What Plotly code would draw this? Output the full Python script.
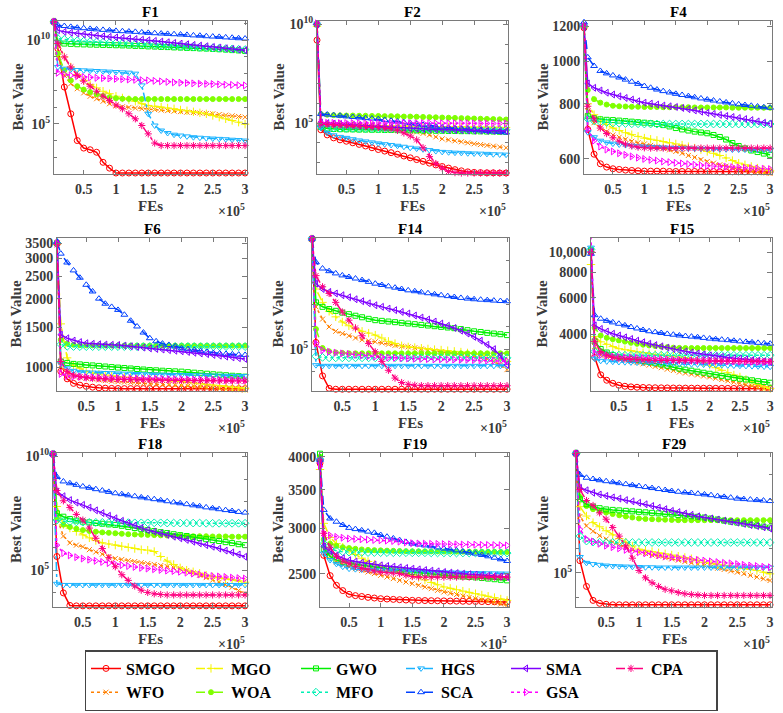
import plotly.graph_objects as go

# ---------------------------------------------------------------- data
FES = [4000, 10000, 20000, 30000, 40000, 50000, 60000, 70000, 80000, 90000,
       100000, 110000, 120000, 130000, 140000, 150000, 160000, 170000, 180000,
       190000, 200000, 210000, 220000, 230000, 240000, 250000, 260000, 270000,
       280000, 290000, 300000]

# drawing order (later = on top) and legend order (row by row)
DRAW_ORDER = ["SMGO", "WFO", "MGO", "WOA", "GWO", "MFO", "HGS", "SCA", "SMA", "GSA", "CPA"]
LEGEND_ORDER = ["SMGO", "MGO", "GWO", "HGS", "SMA", "CPA", "WFO", "WOA", "MFO", "SCA", "GSA"]

# F1, F2, F14, F18, F29: log10 of Best Value
F1_LOG10 = {
    "SMGO": [11.1, 9.5, 7.2, 5.6, 4.0, 3.55, 3.45, 3.3, 2.7, 2.35, 2.06] + [2.06] * 20,
    "MGO": [11.1, 9.8, 9.0, 8.4, 7.95, 7.6, 7.35, 7.15, 6.95, 6.8, 6.65, 6.55, 6.45, 6.35, 6.2, 6.1,
            6.05, 6.0, 5.95, 5.9, 5.83, 5.78, 5.72, 5.66, 5.6, 5.5, 5.4, 5.3, 5.2, 5.1, 4.98],
    "GWO": [11.1, 9.85, 9.8, 9.78, 9.76, 9.75, 9.74, 9.73, 9.72, 9.71, 9.7, 9.69, 9.68, 9.66, 9.65, 9.63,
            9.62, 9.6, 9.59, 9.57, 9.56, 9.54, 9.53, 9.51, 9.5, 9.48, 9.46, 9.44, 9.41, 9.39, 9.36],
    "HGS": [11.1, 8.4, 8.3, 8.25, 8.22, 8.2, 8.18, 8.16, 8.14, 8.12, 8.1, 8.08, 8.06, 8.0, 7.3, 5.6,
            4.9, 4.6, 4.45, 4.35, 4.3, 4.25, 4.2, 4.17, 4.14, 4.12, 4.1, 4.08, 4.05, 4.03, 4.0],
    "SMA": [11.1, 10.6, 10.5, 10.45, 10.4, 10.35, 10.3, 10.27, 10.24, 10.2, 10.17, 10.14, 10.1, 10.07,
            10.03, 10.0, 9.96, 9.92, 9.88, 9.84, 9.8, 9.76, 9.72, 9.68, 9.64, 9.6, 9.56, 9.52, 9.48, 9.44, 9.4],
    "CPA": [11.1, 9.8, 9.0, 8.4, 7.9, 7.55, 7.25, 6.95, 6.65, 6.4, 6.13, 5.9, 5.6, 5.3, 4.9, 4.4,
            3.85, 3.7] + [3.7] * 13,
    "WFO": [11.1, 9.0, 7.9, 7.4, 7.1, 6.85, 6.65, 6.5, 6.35, 6.2, 6.07, 6.02, 5.98, 5.94, 5.9, 5.87,
            5.85, 5.82, 5.79, 5.76, 5.73, 5.7, 5.68, 5.65, 5.62, 5.6, 5.56, 5.52, 5.48, 5.44, 5.4],
    "WOA": [11.1, 9.2, 8.2, 7.6, 7.25, 7.05, 6.9, 6.77, 6.67, 6.58, 6.53, 6.5, 6.49] + [6.48] * 18,
    "MFO": [11.1, 10.1, 10.05, 10.0, 9.97, 9.94, 9.92, 9.9, 9.88, 9.86, 9.84, 9.82, 9.8, 9.78, 9.76, 9.74,
            9.72, 9.7, 9.68, 9.66, 9.64, 9.62, 9.6, 9.58, 9.56, 9.54, 9.52, 9.5, 9.48, 9.46, 9.44],
    "SCA": [11.1, 10.9, 10.85, 10.8, 10.75, 10.72, 10.68, 10.65, 10.62, 10.59, 10.56, 10.54, 10.52, 10.5,
            10.47, 10.44, 10.42, 10.4, 10.38, 10.36, 10.34, 10.32, 10.29, 10.27, 10.24, 10.22, 10.2,
            10.17, 10.15, 10.12, 10.1],
    "GSA": [11.1, 8.05, 7.95, 7.9, 7.85, 7.8, 7.78, 7.75, 7.73, 7.71, 7.69, 7.67, 7.65, 7.63, 7.61, 7.6,
            7.57, 7.54, 7.51, 7.48, 7.46, 7.44, 7.42, 7.4, 7.39, 7.38, 7.36, 7.34, 7.33, 7.31, 7.3],
}

F2_LOG10 = {
    "SMGO": [9.2, 4.66, 4.4, 4.25, 4.15, 4.08, 4.0, 3.92, 3.84, 3.75, 3.66, 3.58, 3.5, 3.42, 3.33, 3.24,
             3.15, 3.06, 2.97, 2.88, 2.8, 2.72, 2.64, 2.58, 2.53, 2.5, 2.49, 2.48, 2.48, 2.47, 2.47],
    "MGO": [9.9, 5.0, 4.95, 4.93, 4.92, 4.91, 4.9, 4.89, 4.88, 4.87, 4.86, 4.86, 4.85, 4.85, 4.84, 4.84,
            4.83, 4.83, 4.82, 4.82, 4.81, 4.81, 4.8, 4.8, 4.8, 4.79, 4.79, 4.79, 4.78, 4.78, 4.78],
    "GWO": [10.0, 4.8, 4.72, 4.7, 4.69, 4.68, 4.68, 4.67, 4.67, 4.66, 4.66, 4.65, 4.65, 4.64, 4.64, 4.63,
            4.63, 4.62, 4.62, 4.61, 4.61, 4.6, 4.6, 4.59, 4.59, 4.58, 4.58, 4.57, 4.57, 4.56, 4.56],
    "HGS": [10.0, 4.75, 4.5, 4.38, 4.3, 4.25, 4.18, 4.12, 4.07, 4.02, 3.97, 3.93, 3.89, 3.85, 3.8, 3.75,
            3.71, 3.67, 3.63, 3.58, 3.54, 3.52, 3.5, 3.49, 3.47, 3.46, 3.45, 3.44, 3.42, 3.41, 3.4],
    "SMA": [10.0, 5.03, 5.0, 4.97, 4.95, 4.93, 4.91, 4.89, 4.87, 4.85, 4.83, 4.81, 4.79, 4.77, 4.75, 4.73,
            4.72, 4.7, 4.69, 4.68, 4.67, 4.66, 4.65, 4.64, 4.63, 4.62, 4.62, 4.61, 4.61, 4.6, 4.6],
    "CPA": [10.0, 4.95, 4.93, 4.91, 4.89, 4.87, 4.86, 4.84, 4.82, 4.8, 4.78, 4.75, 4.71, 4.63, 4.5, 4.35,
            4.15, 3.75, 3.3, 2.95, 2.72, 2.55, 2.49] + [2.47] * 8,
    "WFO": [10.0, 4.86, 4.85, 4.84, 4.83, 4.82, 4.81, 4.8, 4.79, 4.78, 4.77, 4.75, 4.73, 4.7, 4.66, 4.6,
            4.55, 4.48, 4.4, 4.3, 4.2, 4.15, 4.1, 4.05, 4.0, 3.95, 3.91, 3.87, 3.83, 3.79, 3.75],
    "WOA": [10.0, 5.46, 5.42, 5.4, 5.39, 5.38, 5.38, 5.37, 5.37, 5.36, 5.36, 5.35, 5.35, 5.34, 5.33, 5.33,
            5.32, 5.31, 5.3, 5.29, 5.28, 5.27, 5.26, 5.25, 5.24, 5.23, 5.22, 5.21, 5.2, 5.19, 5.18],
    "MFO": [10.0, 4.85, 4.78, 4.75, 4.74, 4.73, 4.73, 4.72, 4.72, 4.72, 4.71, 4.71, 4.71, 4.7, 4.7, 4.7,
            4.7, 4.69, 4.69, 4.69, 4.69, 4.68, 4.68, 4.68, 4.68, 4.67, 4.67, 4.67, 4.67, 4.66, 4.66],
    "SCA": [10.05, 5.46, 5.43, 5.4, 5.37, 5.34, 5.31, 5.28, 5.25, 5.23, 5.2, 5.16, 5.12, 5.08, 5.04, 5.0,
            4.96, 4.91, 4.87, 4.82, 4.78, 4.76, 4.73, 4.71, 4.68, 4.66, 4.63, 4.6, 4.57, 4.55, 4.52],
    "GSA": [10.05, 5.02, 5.01, 5.01, 5.0, 5.0, 5.0, 5.0, 5.0, 5.0, 5.0, 5.0, 5.0, 5.0, 5.0, 5.0,
            5.0, 5.0, 5.0, 4.99, 4.99, 4.99, 4.99, 4.99, 4.99, 4.98, 4.98, 4.98, 4.98, 4.98, 4.98],
}

F4 = {
    "SMGO": [1190, 700, 615, 585, 575, 570, 568, 566, 565, 564, 563, 563, 563, 563, 562, 562,
             562, 562, 562, 562, 562, 562, 561, 561, 561, 561, 561, 561, 561, 561, 561],
    "MGO": [1195, 800, 756, 735, 718, 705, 696, 688, 681, 675, 669, 665, 661, 657, 653, 649,
            645, 640, 635, 630, 624, 618, 611, 603, 595, 587, 582, 577, 572, 568, 564],
    "GWO": [1200, 750, 742, 738, 736, 735, 733, 731, 729, 727, 725, 723, 720, 716, 711, 705,
            700, 696, 692, 689, 686, 680, 673, 664, 652, 642, 634, 627, 622, 617, 613],
    "HGS": [1200, 690, 672, 660, 654, 650, 647, 645, 643, 641, 640, 639, 638, 637, 636, 635,
            634, 634, 633, 633, 632, 632, 631, 631, 630, 630, 630, 629, 629, 629, 629],
    "SMA": [1200, 890, 870, 858, 848, 840, 832, 825, 818, 811, 805, 801, 797, 793, 790, 787,
            783, 778, 773, 768, 763, 759, 755, 751, 747, 743, 739, 735, 730, 725, 721],
    "CPA": [1200, 790, 740, 705, 685, 670, 658, 648, 642, 638, 636] + [635] * 20,
    "WFO": [1200, 770, 725, 705, 692, 680, 672, 665, 658, 653, 649, 644, 639, 634, 629, 624,
            618, 611, 605, 598, 592, 587, 582, 578, 573, 569, 566, 563, 560, 558, 556],
    "WOA": [1200, 860, 820, 805, 797, 792, 790, 789, 788, 788, 787, 787, 787, 786, 786, 786,
            786, 786, 785, 785, 785, 785, 785, 785, 784, 784, 784, 784, 784, 784, 784],
    "MFO": [1200, 740, 732, 728, 726, 724, 723, 722, 721, 721] + [720] * 21,
    "SCA": [1225, 1020, 975, 950, 938, 928, 918, 908, 898, 888, 878, 870, 862, 855, 849, 843,
            838, 833, 828, 823, 818, 814, 810, 806, 802, 798, 795, 792, 789, 786, 784],
    "GSA": [1200, 700, 660, 640, 630, 624, 618, 613, 608, 604, 600, 597, 595, 592, 590, 588,
            586, 584, 582, 580, 579, 578, 577, 576, 575, 574, 573, 572, 571, 570, 569],
}

F6 = {
    "SMGO": [3500, 960, 890, 850, 835, 825, 818, 813, 810, 808, 807] + [806] * 20,
    "MGO": [3450, 1550, 1100, 1020, 990, 960, 945, 935, 925, 917, 910, 906, 902, 898, 894, 890,
            885, 880, 875, 870, 865, 859, 853, 847, 841, 836, 831, 825, 820, 814, 809],
    "GWO": [3500, 1060, 1045, 1035, 1030, 1024, 1019, 1014, 1008, 1002, 997, 993, 988, 983, 978, 973,
            970, 966, 963, 960, 957, 952, 947, 942, 937, 932, 928, 923, 918, 914, 910],
    "HGS": [3700, 1040, 990, 965, 955, 950, 948, 946, 944, 942, 940, 938, 936, 934, 932, 930,
            929, 928, 927, 926, 925, 924, 923, 922, 921, 920, 919, 918, 917, 916, 915],
    "SMA": [3500, 1390, 1340, 1310, 1290, 1275, 1268, 1262, 1258, 1255, 1253, 1245, 1237, 1228, 1220,
            1210, 1203, 1196, 1189, 1182, 1175, 1167, 1158, 1150, 1142, 1133, 1124, 1114, 1105, 1096, 1088],
    "CPA": [3450, 1060, 960, 925, 910, 900, 895, 892, 889, 887, 885, 884, 883, 882, 881, 880,
            879, 878, 877, 876, 875, 875, 874, 874, 873, 873, 872, 872, 871, 871, 870],
    "WFO": [3500, 1020, 945, 915, 905, 895, 888, 880, 874, 869, 865, 861, 857, 853, 850, 846,
            843, 840, 837, 834, 831, 827, 823, 819, 815, 811, 807, 803, 800, 797, 795],
    "WOA": [3500, 1320, 1270, 1255, 1250, 1248, 1247, 1247, 1246, 1246, 1246] + [1245] * 20,
    "MFO": [3500, 1260, 1236, 1233] + [1232] * 27,
    "SCA": [3550, 3150, 2880, 2660, 2470, 2300, 2150, 2000, 1900, 1840, 1785, 1700, 1600, 1510, 1420,
            1341, 1300, 1270, 1253, 1235, 1212, 1200, 1190, 1180, 1170, 1155, 1150, 1145, 1140, 1136, 1133],
    "GSA": [3500, 935, 915, 910, 908, 906, 904, 902, 900, 898, 896, 895, 894, 893, 892, 891,
            890, 889, 888, 887, 886, 885, 884, 883, 882, 881, 880, 880, 879, 879, 878],
}

F14_LOG10 = {
    "SMGO": [9.95, 5.3, 3.8, 3.24] + [3.2] * 27,
    "MGO": [9.95, 7.7, 7.1, 6.7, 6.45, 6.22, 6.05, 5.92, 5.8, 5.72, 5.63, 5.5, 5.35, 5.25, 5.15, 5.1,
            5.07, 5.04, 5.01, 4.98, 4.96, 4.93, 4.9, 4.87, 4.83, 4.8, 4.76, 4.71, 4.64, 4.55, 4.45],
    "GWO": [9.95, 7.1, 6.9, 6.8, 6.72, 6.64, 6.57, 6.5, 6.43, 6.36, 6.3, 6.27, 6.24, 6.21, 6.18, 6.15,
            6.12, 6.09, 6.06, 6.03, 6.0, 5.97, 5.94, 5.9, 5.85, 5.8, 5.77, 5.73, 5.7, 5.67, 5.63],
    "HGS": [9.95, 4.28] + [4.25] * 29,
    "SMA": [9.95, 7.94, 7.7, 7.57, 7.5, 7.42, 7.33, 7.24, 7.15, 7.06, 6.97, 6.9, 6.82, 6.75, 6.67, 6.6,
            6.51, 6.42, 6.33, 6.24, 6.15, 6.05, 5.95, 5.83, 5.7, 5.55, 5.38, 5.2, 5.0, 4.7, 4.3],
    "CPA": [9.95, 8.3, 7.8, 7.5, 7.1, 6.67, 6.3, 5.95, 5.6, 5.25, 4.88, 4.45, 4.05, 3.7, 3.5, 3.42,
            3.38] + [3.36] * 14,
    "WFO": [9.95, 6.9, 6.35, 6.0, 5.8, 5.7, 5.6, 5.5, 5.42, 5.37, 5.33, 5.28, 5.22, 5.17, 5.13, 5.1,
            5.06, 5.01, 4.96, 4.92, 4.88, 4.84, 4.8, 4.76, 4.72, 4.68, 4.62, 4.55, 4.45, 4.28, 4.08],
    "WOA": [9.95, 5.9, 5.05, 4.9, 4.85, 4.83] + [4.81] * 25,
    "MFO": [9.95, 4.68, 4.63] + [4.61] * 28,
    "SCA": [9.95, 8.9, 8.62, 8.5, 8.4, 8.31, 8.24, 8.17, 8.1, 8.02, 7.94, 7.88, 7.82, 7.76, 7.7, 7.64,
            7.6, 7.55, 7.51, 7.46, 7.42, 7.38, 7.34, 7.3, 7.27, 7.24, 7.22, 7.2, 7.18, 7.16, 7.15],
    "GSA": [9.95, 5.25, 4.95, 4.88, 4.84, 4.81, 4.78, 4.75, 4.72, 4.69, 4.66, 4.64, 4.62, 4.61, 4.59,
            4.58, 4.57, 4.56, 4.55, 4.54, 4.54, 4.53, 4.53, 4.52, 4.52, 4.51, 4.5, 4.49, 4.48, 4.47, 4.46],
}

F15 = {
    "SMGO": [10000, 3100, 2550, 2400, 2320, 2270, 2245, 2230, 2220, 2215, 2210, 2208, 2206, 2204, 2202,
             2200, 2199, 2198, 2197, 2196, 2195, 2194, 2193, 2192, 2191, 2190, 2189, 2188, 2187, 2186, 2185],
    "MGO": [8700, 3900, 3680, 3580, 3490, 3410, 3370, 3330, 3295, 3260, 3225, 3200, 3180, 3160, 3140,
            3115, 3080, 3040, 2990, 2920, 2840, 2760, 2680, 2610, 2545, 2490, 2420, 2350, 2290, 2235, 2190],
    "GWO": [10200, 3700, 3400, 3270, 3180, 3115, 3075, 3040, 3005, 2970, 2940, 2900, 2860, 2820, 2775,
            2730, 2700, 2670, 2640, 2610, 2580, 2550, 2520, 2495, 2465, 2440, 2420, 2400, 2375, 2355, 2335],
    "HGS": [10500, 3050, 2980, 2960, 2950, 2940, 2934, 2928, 2922, 2916, 2910, 2904, 2898, 2892, 2886,
            2880, 2874, 2868, 2862, 2856, 2850, 2844, 2838, 2832, 2826, 2820, 2814, 2808, 2802, 2796, 2790],
    "SMA": [10000, 4420, 4250, 4130, 4030, 3950, 3870, 3800, 3730, 3665, 3605, 3550, 3500, 3450, 3400,
            3350, 3310, 3270, 3235, 3200, 3165, 3140, 3115, 3090, 3070, 3055, 3030, 3005, 2985, 2960, 2940],
    "CPA": [10000, 3700, 3300, 3180, 3100, 3055, 3040, 3030, 3020, 3010, 3000, 2995, 2992, 2990, 2988,
            2986, 2984, 2982, 2980, 2978, 2976, 2974, 2972, 2970, 2968, 2966, 2965, 2964, 2963, 2962, 2960],
    "WFO": [10200, 3500, 3170, 3120, 3080, 3055, 3010, 2965, 2920, 2880, 2840, 2800, 2760, 2715, 2675,
            2630, 2600, 2570, 2545, 2515, 2490, 2455, 2420, 2385, 2350, 2320, 2285, 2250, 2220, 2190, 2165],
    "WOA": [10000, 4300, 3950, 3850, 3790, 3740, 3690, 3640, 3600, 3565, 3535, 3510, 3490, 3470, 3450,
            3440] + [3435] * 15,
    "MFO": [10300, 3300, 3230, 3200, 3185, 3175] + [3170] * 25,
    "SCA": [9800, 4950, 4760, 4650, 4570, 4500, 4420, 4340, 4270, 4200, 4140, 4100, 4060, 4020, 3985,
            3950, 3925, 3900, 3875, 3845, 3815, 3790, 3770, 3750, 3725, 3700, 3680, 3660, 3640, 3620, 3605],
    "GSA": [11900, 3250, 3180, 3150, 3130, 3115, 3100, 3090, 3080, 3070, 3060, 3050, 3040, 3030, 3020,
            3010, 3000, 2995, 2990, 2985, 2980, 2975, 2970, 2965, 2960, 2955, 2950, 2948, 2945, 2942, 2940],
}

F18_LOG10 = {
    "SMGO": [10.1, 5.6, 4.0, 3.45] + [3.43] * 27,
    "MGO": [10.1, 7.8, 7.0, 6.85, 6.7, 6.55, 6.42, 6.3, 6.2, 6.15, 6.1, 6.05, 6.0, 5.95, 5.9, 5.88,
            5.82, 5.6, 5.4, 5.25, 5.1, 5.0, 4.93, 4.86, 4.78, 4.71, 4.66, 4.62, 4.58, 4.53, 4.47],
    "GWO": [10.1, 7.5, 7.35, 7.25, 7.18, 7.13, 7.1, 7.07, 7.04, 7.01, 6.99, 6.95, 6.9, 6.85, 6.8, 6.76,
            6.72, 6.67, 6.63, 6.58, 6.54, 6.5, 6.45, 6.41, 6.36, 6.32, 6.28, 6.23, 6.19, 6.14, 6.1],
    "HGS": [10.1, 4.4] + [4.35] * 29,
    "SMA": [10.1, 8.45, 8.25, 8.08, 7.97, 7.87, 7.75, 7.63, 7.51, 7.39, 7.28, 7.17, 7.07, 6.96, 6.86,
            6.76, 6.69, 6.62, 6.55, 6.47, 6.4, 6.33, 6.25, 6.18, 6.1, 6.03, 5.95, 5.86, 5.78, 5.69, 5.59],
    "CPA": [10.1, 8.5, 8.05, 7.75, 7.45, 7.2, 6.85, 6.4, 5.95, 5.55, 5.15, 4.8, 4.55, 4.3, 4.12, 4.02,
            3.96, 3.93] + [3.91] * 13,
    "WFO": [10.1, 7.3, 6.5, 6.2, 6.1, 6.03, 5.9, 5.8, 5.7, 5.6, 5.51, 5.47, 5.42, 5.38, 5.33, 5.29,
            5.25, 5.2, 5.16, 5.11, 5.07, 4.98, 4.88, 4.78, 4.67, 4.56, 4.47, 4.37, 4.25, 4.1, 3.97],
    "WOA": [10.1, 7.3, 7.0, 6.9, 6.82, 6.76, 6.72, 6.69, 6.66, 6.64, 6.62, 6.6, 6.58, 6.57, 6.56, 6.55,
            6.54, 6.53, 6.52, 6.51, 6.5, 6.5, 6.49, 6.49, 6.49, 6.48, 6.48, 6.48, 6.47, 6.47, 6.47],
    "MFO": [10.1, 7.2, 7.15, 7.13, 7.12, 7.11, 7.1, 7.1, 7.1, 7.09, 7.09, 7.09, 7.09, 7.08, 7.08, 7.08,
            7.08, 7.08, 7.07, 7.07, 7.07, 7.07, 7.07, 7.07, 7.06, 7.06, 7.06, 7.06, 7.06, 7.06, 7.06],
    "SCA": [10.1, 9.1, 8.9, 8.82, 8.75, 8.68, 8.62, 8.56, 8.5, 8.44, 8.38, 8.34, 8.29, 8.25, 8.2, 8.16,
            8.12, 8.07, 8.03, 7.98, 7.94, 7.9, 7.85, 7.81, 7.76, 7.72, 7.68, 7.64, 7.6, 7.56, 7.53],
    "GSA": [10.1, 6.1, 5.75, 5.65, 5.57, 5.51, 5.46, 5.41, 5.36, 5.31, 5.26, 5.22, 5.18, 5.14, 5.1,
            5.07, 5.04, 5.01, 4.98, 4.96, 4.93, 4.89, 4.85, 4.81, 4.77, 4.74, 4.72, 4.7, 4.67, 4.65, 4.63],
}

F19 = {
    "SMGO": [3900, 2690, 2480, 2385, 2335, 2300, 2288, 2280, 2272, 2266, 2260, 2257, 2254, 2251, 2248,
             2245, 2244, 2243, 2242, 2241, 2240, 2239, 2238, 2237, 2236, 2235, 2234, 2233, 2232, 2231, 2230],
    "MGO": [3800, 3060, 2890, 2820, 2780, 2746, 2700, 2660, 2625, 2595, 2568, 2550, 2533, 2516, 2500,
            2483, 2460, 2437, 2413, 2390, 2369, 2356, 2343, 2330, 2318, 2306, 2294, 2282, 2270, 2257, 2245],
    "GWO": [4050, 2760, 2680, 2640, 2618, 2603, 2595, 2585, 2575, 2565, 2555, 2548, 2540, 2532, 2524,
            2516, 2510, 2503, 2496, 2490, 2483, 2478, 2474, 2470, 2466, 2462, 2456, 2450, 2444, 2438, 2433],
    "HGS": [3950, 2710, 2640, 2600, 2570, 2550, 2545, 2541, 2538, 2535, 2533, 2531, 2529, 2527, 2525,
            2523, 2521, 2519, 2517, 2515, 2513, 2511, 2510, 2508, 2506, 2505, 2504, 2503, 2502, 2501, 2500],
    "SMA": [3900, 2790, 2735, 2690, 2660, 2638, 2625, 2613, 2603, 2594, 2585, 2578, 2571, 2564, 2557,
            2550, 2543, 2536, 2530, 2523, 2516, 2510, 2505, 2499, 2494, 2490, 2485, 2480, 2475, 2471, 2467],
    "CPA": [3950, 2940, 2780, 2680, 2630, 2600, 2575, 2555, 2540, 2527, 2515, 2510, 2505, 2500, 2485,
            2470, 2467] + [2465] * 14,
    "WFO": [3900, 2800, 2680, 2620, 2590, 2568, 2550, 2533, 2516, 2500, 2483, 2466, 2450, 2433, 2417,
            2401, 2385, 2369, 2353, 2337, 2322, 2310, 2298, 2285, 2272, 2260, 2248, 2236, 2224, 2212, 2200],
    "WOA": [4000, 2870, 2820, 2795, 2780, 2770, 2762, 2755, 2750, 2747, 2745, 2742, 2740, 2738, 2736,
            2735, 2734, 2734, 2733, 2733, 2732, 2732, 2731, 2731, 2730, 2730, 2730, 2729, 2729, 2728, 2728],
    "MFO": [3950, 2820, 2760, 2740, 2730, 2725, 2722, 2722, 2721, 2721, 2720, 2720, 2719, 2719, 2719,
            2718, 2718, 2718, 2717, 2717, 2717, 2717, 2716, 2716, 2716, 2716, 2715, 2715, 2715, 2715, 2715],
    "SCA": [3950, 3230, 3120, 3080, 3040, 3005, 2990, 2975, 2960, 2945, 2920, 2900, 2880, 2860, 2840,
            2820, 2810, 2800, 2790, 2778, 2765, 2755, 2745, 2733, 2720, 2710, 2695, 2680, 2665, 2648, 2630],
    "GSA": [3850, 2940, 2915, 2898, 2888, 2878, 2874, 2870, 2866, 2862, 2859, 2855, 2850, 2843, 2834,
            2825, 2822, 2820, 2818, 2817, 2815, 2813, 2812, 2810, 2809, 2808, 2806, 2805, 2804, 2802, 2800],
}

F29_LOG10 = {
    "SMGO": [9.87, 5.5, 4.45, 3.88, 3.76, 3.72] + [3.7] * 25,
    "MGO": [9.87, 7.7, 7.32, 7.05, 6.88, 6.72, 6.55, 6.4, 6.25, 6.1, 5.97, 5.92, 5.87, 5.82, 5.78, 5.73,
            5.68, 5.63, 5.58, 5.5, 5.43, 5.39, 5.35, 5.31, 5.27, 5.23, 5.19, 5.15, 5.1, 5.03, 4.96],
    "GWO": [9.87, 8.0, 7.8, 7.7, 7.64, 7.59, 7.57, 7.55, 7.53, 7.51, 7.49, 7.47, 7.45, 7.43, 7.41, 7.39,
            7.36, 7.34, 7.31, 7.29, 7.26, 7.22, 7.18, 7.13, 7.09, 7.05, 7.01, 6.97, 6.93, 6.89, 6.85],
    "HGS": [9.87, 5.65, 5.41, 5.36, 5.33, 5.3, 5.28, 5.27, 5.26, 5.25, 5.24, 5.23, 5.23] + [5.22] * 18,
    "SMA": [9.87, 8.47, 8.37, 8.27, 8.2, 8.14, 8.08, 8.03, 7.97, 7.92, 7.86, 7.8, 7.73, 7.66, 7.6, 7.53,
            7.48, 7.42, 7.37, 7.31, 7.26, 7.22, 7.18, 7.13, 7.09, 7.05, 7.0, 6.95, 6.91, 6.86, 6.81],
    "CPA": [9.87, 8.4, 7.95, 7.75, 7.45, 7.19, 6.85, 6.5, 6.1, 5.6, 5.1, 4.8, 4.6, 4.45, 4.33, 4.27,
            4.2, 4.15, 4.12, 4.1] + [4.08] * 11,
    "WFO": [9.87, 7.3, 6.92, 6.7, 6.52, 6.38, 6.26, 6.15, 6.04, 5.94, 5.84, 5.79, 5.73, 5.68, 5.62, 5.57,
            5.52, 5.46, 5.41, 5.35, 5.3, 5.25, 5.19, 5.14, 5.08, 5.03, 4.97, 4.9, 4.83, 4.76, 4.69],
    "WOA": [9.87, 8.1, 7.73, 7.6, 7.52, 7.46, 7.4, 7.35, 7.3, 7.26, 7.22, 7.2, 7.19, 7.18, 7.17,
            7.16] + [7.15] * 15,
    "MFO": [9.87, 6.5, 6.3, 6.26, 6.25] + [6.24] * 26,
    "SCA": [9.87, 9.0, 8.88, 8.83, 8.78, 8.74, 8.7, 8.66, 8.62, 8.58, 8.54, 8.5, 8.46, 8.42, 8.38, 8.34,
            8.31, 8.28, 8.26, 8.23, 8.2, 8.17, 8.13, 8.1, 8.07, 8.03, 8.01, 7.99, 7.97, 7.95, 7.93],
    "GSA": [9.87, 6.78, 6.38, 6.28, 6.19, 6.11, 6.05, 6.0, 5.94, 5.89, 5.84, 5.8, 5.76, 5.72, 5.68,
            5.64, 5.61, 5.58, 5.55, 5.53, 5.5, 5.47, 5.44, 5.41, 5.39, 5.36, 5.33, 5.3, 5.28, 5.25, 5.23],
}

X_TICKVALS = [50000, 100000, 150000, 200000, 250000, 300000]
X_TICKTEXT = ["0.5", "1", "1.5", "2", "2.5", "3"]

# ---------------------------------------------------------------- styles
COLORS = {"SMGO": "#FF0000", "MGO": "#F5F500", "GWO": "#00F000", "HGS": "#19B2FF",
          "SMA": "#7F00FF", "CPA": "#FF0080", "WFO": "#FF8000", "WOA": "#7FFF00",
          "MFO": "#00F0B4", "SCA": "#0040FF", "GSA": "#FF00FF"}
DASHES = {"SMGO": "solid", "MGO": "dashdot", "GWO": "solid", "HGS": "dashdot",
          "SMA": "solid", "CPA": "dashdot", "WFO": "dot", "WOA": "dash",
          "MFO": "dot", "SCA": "dash", "GSA": "dot"}
SYMBOLS = {"SMGO": "circle-open", "MGO": "cross-thin-open", "GWO": "square-open",
           "HGS": "triangle-down-open", "SMA": "triangle-left-open", "CPA": "asterisk-open",
           "WFO": "x-thin-open", "WOA": "circle", "MFO": "diamond-open",
           "SCA": "triangle-up-open", "GSA": "triangle-right-open"}
MSIZE = {"SMGO": 6, "MGO": 6, "GWO": 5, "HGS": 6, "SMA": 6, "CPA": 6, "WFO": 5,
         "WOA": 5, "MFO": 6, "SCA": 6, "GSA": 6}

W, H = 783, 713
ML, MR = 52, 10
PW = W - ML - MR
FONT = "Liberation Serif, Times New Roman, serif"
TXT = "#3a3a3a"
AXC = "#7a7a7a"


def sup(n):
    return "10<sup>%d</sup>" % n


PANELS = [
    dict(title="F1", data=F1_LOG10, exp=True, rng=[2.0, 11.15], tv=[1e5, 1e10], tt=[sup(5), sup(10)],
         minor=[10 ** k for k in (3, 4, 6, 7, 8, 9, 11)], xpx=(54, 247), ypx=(21, 174), ylx=17),
    dict(title="F2", data=F2_LOG10, exp=True, rng=[2.42, 10.17], tv=[1e5, 1e10], tt=[sup(5), sup(10)],
         minor=[10 ** k for k in (3, 4, 6, 7, 8, 9)], xpx=(317, 508), ypx=(21, 174), ylx=278),
    dict(title="F4", data=F4, exp=False, rng=[2.744, 3.091], tv=[600, 800, 1000, 1200],
         tt=["600", "800", "1000", "1200"], minor=None, xpx=(584, 772), ypx=(21, 174), ylx=542),
    dict(title="F6", data=F6, exp=False, rng=[2.896, 3.567], tv=[1000, 1500, 2000, 2500, 3000, 3500],
         tt=["1000", "1500", "2000", "2500", "3000", "3500"], minor=None, xpx=(57, 247), ypx=(238, 391), ylx=16),
    dict(title="F14", data=F14_LOG10, exp=True, rng=[3.12, 9.99], tv=[1e5], tt=[sup(5)],
         minor=[10 ** k for k in (4, 6, 7, 8, 9)], xpx=(312, 509), ypx=(238, 391), ylx=278),
    dict(title="F15", data=F15, exp=False, rng=[3.3283, 4.0677], tv=[4000, 6000, 8000, 10000],
         tt=["4000", "6000", "8000", "10,000"], minor=None, xpx=(591, 772), ypx=(238, 391), ylx=542),
    dict(title="F18", data=F18_LOG10, exp=True, rng=[3.38, 10.15], tv=[1e5, 1e10], tt=[sup(5), sup(10)],
         minor=[10 ** k for k in (4, 6, 7, 8, 9)], xpx=(53, 247), ypx=(453, 607), ylx=16),
    dict(title="F19", data=F19, exp=False, rng=[3.3396, 3.6086], tv=[2500, 3000, 3500, 4000],
         tt=["2500", "3000", "3500", "4000"], minor=None, xpx=(320, 509), ypx=(453, 607), ylx=278),
    dict(title="F29", data=F29_LOG10, exp=True, rng=[3.61, 9.89], tv=[1e5], tt=[sup(5)],
         minor=[10 ** k for k in (4, 6, 7, 8, 9)], xpx=(576, 772), ypx=(453, 607), ylx=543),
]


def px_x(p):
    return (p - ML) / PW


def px_y(p):
    return 1 - p / H


fig = go.Figure()
layout = {}
annotations = []
tickfont = dict(family=FONT, size=14, color=TXT, weight="bold")

for i, p in enumerate(PANELS, start=1):
    sfx = "" if i == 1 else str(i)
    for alg in DRAW_ORDER:
        vals = p["data"][alg]
        yv = [10 ** v for v in vals] if p["exp"] else vals
        fig.add_trace(go.Scatter(
            x=FES, y=yv, mode="lines+markers", name=alg, legendgroup=alg,
            showlegend=(i == 1), legendrank=LEGEND_ORDER.index(alg) + 1,
            xaxis="x" + sfx, yaxis="y" + sfx, cliponaxis=False,
            line=dict(color=COLORS[alg], width=1.5, dash=DASHES[alg]),
            marker=dict(symbol=SYMBOLS[alg], size=MSIZE[alg], color=COLORS[alg],
                        line=dict(color=COLORS[alg], width=1)),
        ))
    x0, x1 = p["xpx"]
    t, b = p["ypx"]
    layout["xaxis" + sfx] = dict(
        domain=[px_x(x0), px_x(x1)], anchor="y" + sfx, range=[4000, 303000],
        tickmode="array", tickvals=X_TICKVALS, ticktext=X_TICKTEXT,
        ticks="inside", ticklen=4, tickcolor=AXC, mirror="ticks", showline=True,
        linecolor=AXC, linewidth=1, showgrid=False, zeroline=False, tickfont=tickfont,
        ticklabelstandoff=2,
    )
    yax = dict(
        domain=[px_y(b), px_y(t)], anchor="x" + sfx, type="log", range=p["rng"],
        tickmode="array", tickvals=p["tv"], ticktext=p["tt"],
        ticks="inside", ticklen=5, tickcolor=AXC, mirror="ticks", showline=True,
        linecolor=AXC, linewidth=1, showgrid=False, zeroline=False, tickfont=tickfont,
    )
    if p["minor"]:
        yax["minor"] = dict(tickmode="array", tickvals=p["minor"], ticks="inside",
                            ticklen=3, tickcolor=AXC, showgrid=False)
    layout["yaxis" + sfx] = yax

    cx = px_x((x0 + x1) / 2)
    annotations.append(dict(text="<b>%s</b>" % p["title"], x=cx, y=px_y(t - 9), xref="paper",
                            yref="paper", showarrow=False, xanchor="center", yanchor="middle",
                            font=dict(family=FONT, size=15, color="black")))
    annotations.append(dict(text="<b>FEs</b>", x=cx, y=px_y(b + 32), xref="paper", yref="paper",
                            showarrow=False, xanchor="center", yanchor="middle",
                            font=dict(family=FONT, size=15, color=TXT)))
    annotations.append(dict(text="<b>×10<sup>5</sup></b>", x=px_x(x1), y=px_y(b + 36), xref="paper",
                            yref="paper", showarrow=False, xanchor="right", yanchor="middle",
                            font=dict(family=FONT, size=14, color=TXT)))
    annotations.append(dict(text="<b>Best Value</b>", x=px_x(p["ylx"]), y=px_y((t + b) / 2),
                            xref="paper", yref="paper", showarrow=False, textangle=-90,
                            xanchor="center", yanchor="middle",
                            font=dict(family=FONT, size=15, color=TXT)))

fig.update_layout(
    width=W, height=H, margin=dict(l=ML, r=MR, t=0, b=0, autoexpand=False),
    paper_bgcolor="white", plot_bgcolor="white",
    annotations=annotations,
    legend=dict(orientation="h", x=px_x(401), xanchor="center", y=px_y(711), yanchor="bottom",
                entrywidth=60, entrywidthmode="pixels", itemwidth=30, traceorder="normal",
                font=dict(family=FONT, size=16, color="black", weight="bold"),
                bordercolor="#444444", borderwidth=1.5, bgcolor="white"),
    **layout,
)

fig.write_html("out.html")
